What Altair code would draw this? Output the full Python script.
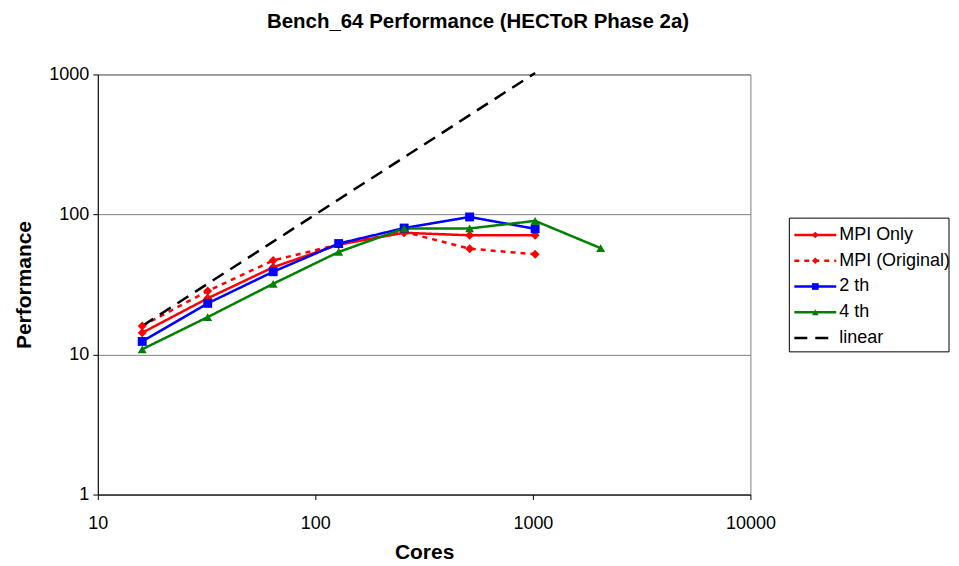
import altair as alt
import pandas as pd

# ---------------- data ----------------
cores = [16, 32, 64, 128, 256, 512, 1024, 2048]
mpi_only = [14.3, 25.2, 42.0, 61.0, 74.0, 71.0, 71.0]
mpi_original = [16.0, 28.4, 47.0, 61.0, 75.0, 57.0, 52.0]
th2 = [12.4, 23.2, 39.0, 62.0, 80.0, 96.0, 79.0]
th4 = [10.9, 18.5, 32.0, 54.0, 79.5, 79.5, 90.0, 57.5]
linear = [16, 32, 64, 128, 256, 512, 1024]

series_names = ["MPI Only", "MPI (Original)", "2 th", "4 th", "linear"]
series_values = [mpi_only, mpi_original, th2, th4, linear]
series_colors = ["#FF0000", "#FF0000", "#0000FF", "#008000", "#000000"]
series_dash = [[1, 0], [5, 5], [1, 0], [1, 0], [13, 8]]
series_shapes = ["diamond", "diamond", "square", "triangle-up", None]

y_ticks = [1, 10, 100, 1000]
x_ticks = [10, 100, 1000, 10000]

rows = []
for name, vals in zip(series_names, series_values):
    for c, v in zip(cores, vals):
        rows.append({"series": name, "cores": c, "perf": v})
df = pd.DataFrame(rows)

legend_df = pd.DataFrame({"series": series_names,
                          "shape": [s if s else "none" for s in series_shapes]})

FONT = "Liberation Sans"
color_scale = alt.Scale(domain=series_names, range=series_colors)
dash_scale = alt.Scale(domain=series_names, range=series_dash)

x_enc = alt.X(
    "cores:Q",
    scale=alt.Scale(type="log", domain=[10, 10000], nice=False),
    axis=alt.Axis(
        values=x_ticks, format="d", title="Cores", grid=False, labelFlush=False,
        tickSize=5, labelPadding=15, titlePadding=9,
        labelFontSize=18, titleFontSize=21, labelFont=FONT, titleFont=FONT,
        titleFontWeight="bold", domainColor="black", tickColor="black",
        labelColor="black", titleColor="black",
    ),
)
y_enc = alt.Y(
    "perf:Q",
    scale=alt.Scale(type="log", domain=[1, 1000], nice=False),
    axis=alt.Axis(
        values=y_ticks, format="d", title="Performance", grid=True, labelFlush=False,
        gridColor="#808080", gridWidth=1,
        tickSize=5, labelPadding=4, titlePadding=14,
        labelFontSize=18, titleFontSize=21, labelFont=FONT, titleFont=FONT,
        titleFontWeight="bold", domainColor="black", tickColor="black",
        labelColor="black", titleColor="black",
    ),
)

lines = alt.Chart(df).mark_line(strokeWidth=2.5).encode(
    x=x_enc,
    y=y_enc,
    color=alt.Color("series:N", scale=color_scale, legend=None),
    strokeDash=alt.StrokeDash("series:N", scale=dash_scale, legend=None),
    detail="series:N",
)

point_layers = []
for name, col, shp in zip(series_names, series_colors, series_shapes):
    if shp is None:
        continue
    point_layers.append(
        alt.Chart(df)
        .transform_filter(alt.datum.series == name)
        .mark_point(shape=shp, filled=True, color=col, opacity=1, size=80)
        .encode(x="cores:Q", y="perf:Q")
    )

main = alt.layer(lines, *point_layers)

# ---------------- legend panel (drawn with marks) ----------------
leg_y = alt.Y("series:N", scale=alt.Scale(domain=series_names, range=[148, 277]), axis=None)

leg_box = alt.Chart(legend_df).transform_filter(alt.datum.series == series_names[0]).mark_rect(
    fill="white", stroke="black", strokeWidth=1
).encode(x=alt.value(693), x2=alt.value(853), y=alt.value(144), y2=alt.value(278))

leg_lines = alt.Chart(legend_df).mark_rule(strokeWidth=2.5).encode(
    x=alt.value(698), x2=alt.value(740), y=leg_y,
    color=alt.Color("series:N", scale=color_scale, legend=None),
    strokeDash=alt.StrokeDash("series:N", scale=dash_scale, legend=None),
)

leg_points = alt.Chart(legend_df).transform_filter(alt.datum.shape != "none").mark_point(
    filled=True, opacity=1, size=45
).encode(
    x=alt.value(719), y=leg_y,
    color=alt.Color("series:N", scale=color_scale, legend=None),
    shape=alt.Shape("shape:N", scale=None, legend=None),
)

leg_text = alt.Chart(legend_df).mark_text(
    align="left", baseline="middle", font=FONT, fontSize=18, color="black"
).encode(x=alt.value(743), y=leg_y, text="series:N")

legend_panel = alt.layer(leg_box, leg_lines, leg_points, leg_text)

chart = (
    alt.layer(main, legend_panel)
    .resolve_scale(y="independent")
    .properties(
        width=654,
        height=421,
        padding={"left": 5, "top": 3, "right": 0, "bottom": 0},
        title=alt.TitleParams(
            "Bench_64 Performance (HECToR Phase 2a)",
            font=FONT, fontSize=20.5, fontWeight="bold", color="black",
            anchor="middle", dx=54, offset=33,
        ),
    )
    .configure(background="white")
    .configure_view(stroke="#808080", strokeWidth=1)
)

chart.save("out.html", embed_options={"renderer": "svg", "actions": False})
